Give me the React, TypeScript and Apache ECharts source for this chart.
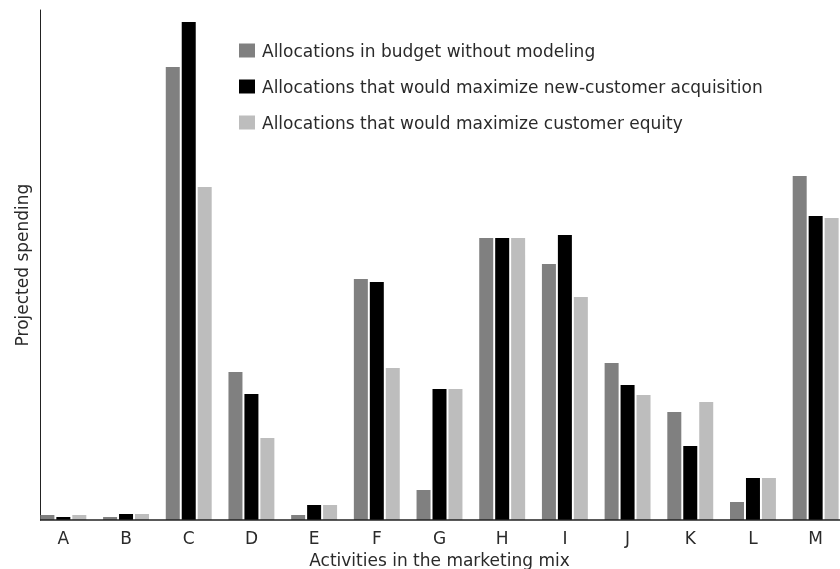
import React, { useEffect, useRef } from "react";
import * as echarts from "echarts";

const categories = ["A", "B", "C", "D", "E", "F", "G", "H", "I", "J", "K", "L", "M"];
const budgetNoModel = [5, 3, 453, 148, 5, 241, 30, 282, 256, 157, 108, 18, 344];
const maxAcquisition = [3, 6, 498, 126, 15, 238, 131, 282, 285, 135, 74, 42, 304];
const maxEquity = [5, 6, 333, 82, 15, 152, 131, 282, 223, 125, 118, 42, 302];
const seriesNames = [
  "Allocations in budget without modeling",
  "Allocations that would maximize new-customer acquisition",
  "Allocations that would maximize customer equity",
];

const FONT = "DejaVu Sans";
const TXT = "#2a2a2a";

export default function App() {
  const ref = useRef<HTMLDivElement>(null);
  useEffect(() => {
    if (!ref.current) return;
    const chart = echarts.init(ref.current, undefined, { renderer: "svg" });
    const colors = ["#808080", "#000000", "#bdbdbd"];
    const data = [budgetNoModel, maxAcquisition, maxEquity];
    chart.setOption({
      animation: false,
      textStyle: { fontFamily: FONT },
      grid: { left: 32, top: 10, width: 815, height: 510, outerBoundsMode: "none", containLabel: false },
      legend: {
        orient: "vertical",
        left: 234,
        top: 37,
        itemWidth: 16,
        itemHeight: 14,
        itemGap: 19,
        icon: "rect",
        textStyle: { fontSize: 17, color: TXT, fontFamily: FONT, padding: [0, 0, 0, 2], lineHeight: 17 },
        data: seriesNames,
      },
      xAxis: {
        type: "category",
        data: categories,
        axisLine: { show: false },
        axisTick: { show: false },
        axisLabel: { fontSize: 17, color: TXT, margin: 9, fontFamily: FONT },
        name: "Activities in the marketing mix",
        nameLocation: "middle",
        nameGap: 31,
        nameTextStyle: { fontSize: 17, color: TXT, fontFamily: FONT },
      },
      yAxis: {
        type: "value",
        min: 0,
        max: 510,
        offset: -8,
        splitLine: { show: false },
        axisLabel: { show: false },
        axisTick: { show: false },
        axisLine: { show: true, lineStyle: { color: "#222", width: 1 } },
        name: "Projected spending",
        nameLocation: "middle",
        nameGap: 10,
        nameTextStyle: { fontSize: 17, color: TXT, fontFamily: FONT },
      },
      graphic: [
        {
          type: "line",
          shape: { x1: 40, y1: 520, x2: 840, y2: 520 },
          style: { stroke: "#222", lineWidth: 1.5 },
          z: 100,
        },
      ],
      series: seriesNames.map((name, i) => ({
        name,
        type: "bar",
        data: data[i],
        barWidth: 14,
        barGap: "14%",
        itemStyle: { color: colors[i] },
      })),
    });
    return () => chart.dispose();
  }, []);
  return (
    <div
      ref={ref}
      style={{ position: "fixed", left: 0, top: 0, width: 840, height: 569 }}
    />
  );
}
